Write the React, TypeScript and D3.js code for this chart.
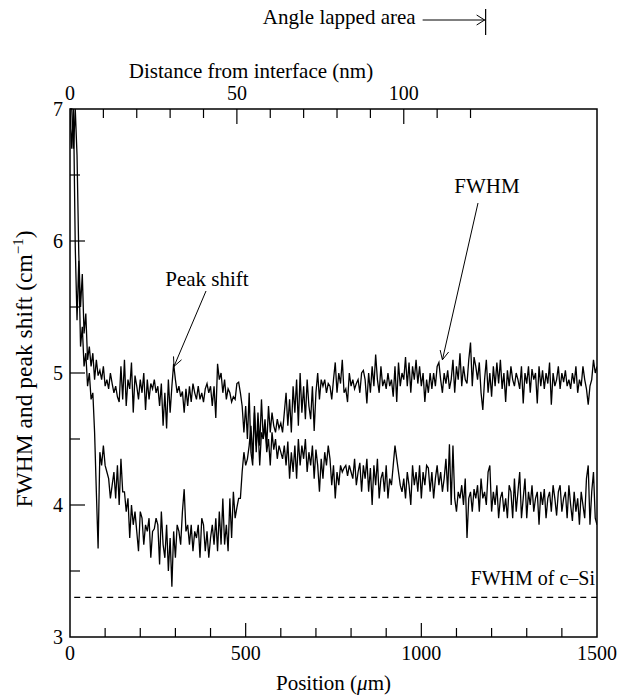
import React from "react";
import * as d3 from "d3";

// Position step (µm) between successive measurements
const STEP_UM = 5;

// Peak shift (cm^-1), positions 0..1500 µm every 5 µm
const peakShift: number[] = [
  7.0, 7.0, 6.7, 7.0, 6.65, 5.9, 5.5, 5.75, 5.3, 5.45, 5.1, 5.2, 5.05, 5.15, 4.95, 5.1, 4.98, 5.02, 4.95, 5.05, 4.9,
  4.95, 4.88, 5.0, 4.92, 4.85, 4.9, 4.82, 4.78, 5.05, 4.8, 5.1, 4.75, 4.95, 4.88, 5.08, 4.7, 4.98, 4.9, 4.8, 4.95,
  4.85, 5.0, 4.72, 4.95, 4.8, 4.92, 4.88, 4.95, 4.85, 4.9, 4.75, 4.92, 4.6, 4.85, 4.58, 4.95, 4.7, 4.9, 5.07, 4.95,
  4.85, 4.9, 4.82, 4.86, 4.7, 4.88, 4.75, 4.9, 4.78, 4.92, 4.85, 4.8, 4.9, 4.8, 4.85, 4.78, 4.88, 4.92, 4.85, 4.9,
  4.75, 4.9, 4.66, 5.07, 4.95, 5.0, 4.85, 4.95, 4.8, 4.88, 4.85, 4.78, 4.82, 4.8, 4.92, 4.93, 4.85, 4.75, 4.55, 4.75,
  4.5, 4.85, 4.4, 4.3, 4.7, 4.45, 4.6, 4.3, 4.55, 4.5, 4.6, 4.4, 4.5, 4.3, 4.55, 4.42, 4.5, 4.35, 4.45, 4.4,
  4.35, 4.45, 4.3, 4.48, 4.2, 4.4, 4.25, 4.45, 4.2, 4.5, 4.3, 4.45, 4.35, 4.5, 4.25, 4.4, 4.3, 4.45, 4.2, 4.42,
  4.3, 4.1, 4.35, 4.2, 4.4, 4.3, 4.45, 4.35, 4.15, 4.3, 4.05, 4.25, 4.15, 4.3, 4.25, 4.28, 4.3, 4.22, 4.3, 4.25,
  4.2, 4.35, 4.15, 4.25, 4.32, 4.1, 4.3, 4.2, 4.35, 4.1, 4.28, 4.0, 4.3, 4.15, 4.35, 4.05, 4.2, 4.25, 4.1, 4.3,
  4.05, 4.2, 4.15, 4.3, 4.45, 4.35, 4.25, 4.15, 4.1, 4.2, 4.05, 4.25, 4.15, 4.0, 4.3, 4.15, 4.25, 4.1, 4.3, 4.05,
  4.25, 4.15, 4.3, 4.28, 4.1, 4.25, 4.05, 4.2, 4.3, 4.15, 4.25, 4.1, 4.2, 4.35, 4.1, 4.46, 4.0, 4.45, 4.05, 3.95,
  4.1, 4.05, 4.15, 4.0, 4.2, 3.75, 4.05, 4.1, 3.95, 4.12, 4.05, 4.15, 3.95, 4.2, 4.05, 4.1, 4.0, 4.25, 4.3, 3.95,
  4.1, 4.0, 4.15, 3.9, 4.05, 4.1, 3.95, 4.05, 3.9, 4.15, 4.1, 3.9, 4.2, 3.95, 4.1, 4.25, 3.9, 4.05, 4.2, 3.9,
  4.1, 4.0, 4.15, 3.95, 4.05, 4.1, 3.85, 4.1, 4.0, 4.12, 3.9, 4.05, 4.1, 3.95, 4.15, 4.05, 3.92, 4.1, 4.15, 3.95,
  4.05, 4.1, 3.9, 4.15, 4.0, 3.88, 4.1, 3.95, 4.05, 3.85, 4.1, 4.0, 3.9, 4.2, 4.3, 3.85, 4.1, 4.25, 3.9, 3.85,
];

// FWHM (cm^-1), positions 0..1500 µm every 5 µm
const fwhm: number[] = [
  7.0, 6.7, 7.0, 5.95, 5.4, 5.85, 5.2, 5.35, 5.05, 5.15, 4.9, 5.0, 4.8, 4.85, 4.55, 4.1, 3.67, 4.4, 4.3, 4.45, 4.3,
  4.25, 4.2, 4.05, 4.15, 4.25, 4.05, 4.3, 4.0, 4.35, 4.1, 4.1, 3.95, 4.05, 3.75, 4.0, 3.85, 3.95, 3.8, 3.65, 3.95,
  3.9, 3.7, 3.85, 3.8, 3.9, 3.6, 3.8, 3.82, 3.9, 3.85, 3.55, 3.95, 3.7, 3.6, 3.85, 3.5, 3.75, 3.38, 3.8, 3.6,
  3.85, 3.8, 3.7, 3.95, 4.12, 3.8, 3.85, 3.7, 3.85, 3.65, 3.8, 3.75, 3.85, 3.6, 3.9, 3.85, 3.65, 3.8, 3.6, 3.75,
  3.85, 3.7, 3.9, 3.65, 3.95, 3.7, 4.05, 3.7, 3.85, 3.65, 4.05, 3.75, 4.1, 3.9, 3.98, 4.05, 4.05, 4.25, 4.4, 4.3,
  4.35, 4.45, 4.6, 4.35, 4.75, 4.4, 4.7, 4.45, 4.8, 4.5, 4.65, 4.45, 4.75, 4.55, 4.7, 4.6, 4.55, 4.65, 4.58, 4.62,
  4.55, 4.7, 4.85, 4.6, 4.8, 4.55, 4.9, 4.7, 4.95, 4.6, 5.0, 4.7, 4.9, 4.65, 4.95, 4.75, 4.65, 4.9, 4.56, 4.85,
  5.0, 4.8, 4.95, 4.9, 4.95, 4.85, 4.92, 4.9, 4.8, 4.95, 5.08, 4.85, 5.0, 4.92, 5.1, 4.85, 4.88, 4.78, 5.0, 4.9,
  4.95, 4.88, 4.92, 4.95, 4.85, 5.0, 5.02, 4.95, 4.77, 5.0, 4.85, 5.05, 4.9, 5.14, 4.95, 4.85, 5.05, 4.9, 4.95, 4.88,
  5.0, 4.9, 4.95, 4.82, 5.05, 4.78, 5.08, 4.9, 5.0, 4.95, 5.12, 4.9, 5.08, 4.85, 5.05, 4.95, 5.1, 4.92, 5.05, 4.9,
  5.0, 4.78, 4.95, 4.85, 5.0, 4.88, 5.0, 4.9, 5.05, 5.08, 4.95, 4.85, 5.0, 4.92, 5.02, 4.88, 4.95, 5.1, 4.85, 5.05,
  4.95, 5.15, 4.9, 5.05, 4.95, 4.92, 5.1, 5.23, 4.9, 5.12, 5.05, 4.95, 5.08, 4.85, 4.72, 4.95, 5.1, 4.85, 5.0, 4.82,
  5.05, 4.9, 5.08, 4.92, 5.1, 4.88, 5.0, 4.78, 5.02, 4.9, 5.05, 4.95, 4.9, 5.0, 4.95, 4.88, 5.05, 4.77, 5.0, 4.92,
  5.05, 4.85, 5.03, 4.95, 5.0, 4.77, 5.05, 4.9, 5.02, 4.88, 5.0, 4.92, 5.08, 4.76, 5.0, 4.9, 4.95, 5.05, 4.88, 5.0,
  4.93, 5.02, 4.9, 4.95, 4.88, 5.0, 4.92, 5.05, 4.85, 4.95, 4.9, 5.05, 4.95, 4.88, 4.76, 4.9, 4.95, 5.1, 5.0, 5.05,
];

const FWHM_CSI = 3.3;
const ANGLE_LAPPED_UM = 1183;
const UM_PER_NM = 9.5;

const bottomTicks = [100, 200, 300, 400, 500, 600, 700, 800, 900, 1000, 1100, 1200, 1300, 1400];
const bottomMajor = [0, 500, 1000, 1500];
const topTicksNm = [10, 20, 30, 40, 50, 60, 70, 80, 90, 100, 110, 120];
const topLabelsNm = [0, 50, 100];
const yTicks = [3.5, 4, 4.5, 5, 5.5, 6, 6.5];
const yLabels = [3, 4, 5, 6, 7];

const W = 622;
const H = 698;
const L = 70, R = 597, T = 109, B = 637;
const FONT = "'Liberation Serif', 'Times New Roman', Times, serif";
const FS = 21;
const FSN = 20;

export default function App() {
  const x = d3.scaleLinear().domain([0, 1500]).range([L, R]);
  const y = d3.scaleLinear().domain([3, 7]).range([B, T]);
  const xNm = (nm: number) => x(nm * UM_PER_NM);

  const line = d3
    .line<number>()
    .x((_, i) => x(i * STEP_UM))
    .y((d) => y(Math.min(7, d)));

  const psTip = { x: x(296), y: y(5.05) };
  const fwTip = { x: x(1060), y: y(5.1) };

  const arrowHead = (tip: { x: number; y: number }, from: { x: number; y: number }) => {
    const ang = Math.atan2(from.y - tip.y, from.x - tip.x);
    const len = 10;
    const spread = 0.45;
    const a1 = { x: tip.x + len * Math.cos(ang + spread), y: tip.y + len * Math.sin(ang + spread) };
    const a2 = { x: tip.x + len * Math.cos(ang - spread), y: tip.y + len * Math.sin(ang - spread) };
    return `M${a1.x},${a1.y}L${tip.x},${tip.y}L${a2.x},${a2.y}`;
  };

  const psFrom = { x: 206, y: 291 };
  const fwFrom = { x: 478, y: 203 };

  const angX = x(ANGLE_LAPPED_UM);

  return (
    <svg
      width={W}
      height={H}
      style={{ position: "absolute", left: 0, top: 0, background: "#fff" }}
      fontFamily={FONT}
      fontSize={FS}
    >
      <rect width={W} height={H} fill="#fff" />
      {/* Angle lapped area */}
      <text x={angX - 70} y={24} textAnchor="end">Angle lapped area</text>
      <line x1={angX - 63} x2={angX} y1={20} y2={20} stroke="#000" strokeWidth={1} />
      <path d={`M${angX - 9},${15}L${angX - 1},${20}L${angX - 9},${25}`} fill="none" stroke="#000" strokeWidth={1} />
      <line x1={angX} x2={angX} y1={9} y2={35} stroke="#000" strokeWidth={1.2} />

      {/* top axis title */}
      <text x={251} y={78} textAnchor="middle">Distance from interface (nm)</text>
      {topLabelsNm.map((t) => (
        <text key={"tl" + t} x={xNm(t)} y={100} textAnchor="middle" fontSize={FSN}>{t}</text>
      ))}

      {/* data */}
      <defs>
        <clipPath id="plot">
          <rect x={L} y={T - 1} width={R - L} height={B - T + 1} />
        </clipPath>
      </defs>
      <g clipPath="url(#plot)" fill="none" stroke="#000" strokeWidth={1.3} strokeLinejoin="miter">
        <path d={line(peakShift) || ""} />
        <path d={line(fwhm) || ""} />
      </g>

      {/* c-Si reference line */}
      <line x1={x(12)} x2={R} y1={y(FWHM_CSI)} y2={y(FWHM_CSI)} stroke="#000" strokeWidth={1.2} strokeDasharray="6,5" />
      <text x={R - 2} y={y(FWHM_CSI) - 12} textAnchor="end" fontSize={20}>FWHM of c–Si</text>

      {/* annotations */}
      <text x={207} y={286} textAnchor="middle">Peak shift</text>
      <line x1={psFrom.x} y1={psFrom.y} x2={psTip.x} y2={psTip.y} stroke="#000" strokeWidth={1} />
      <path d={arrowHead(psTip, psFrom)} fill="none" stroke="#000" strokeWidth={1} />

      <text x={487} y={193} textAnchor="middle">FWHM</text>
      <line x1={fwFrom.x} y1={fwFrom.y} x2={fwTip.x} y2={fwTip.y} stroke="#000" strokeWidth={1} />
      <path d={arrowHead(fwTip, fwFrom)} fill="none" stroke="#000" strokeWidth={1} />

      {/* frame */}
      <rect x={L} y={T} width={R - L} height={B - T} fill="none" stroke="#000" strokeWidth={1.5} />

      {/* bottom ticks */}
      {bottomTicks.map((t) => (
        <line key={"bt" + t} x1={x(t)} x2={x(t)} y1={B} y2={B - (t % 500 === 0 ? 14 : 9)} stroke="#000" strokeWidth={1.2} />
      ))}
      {bottomMajor.map((t) => (
        <text key={"bl" + t} x={x(t)} y={660} textAnchor="middle" fontSize={FSN}>{t}</text>
      ))}
      <text x={(L + R) / 2} y={690} textAnchor="middle">
        Position (<tspan fontStyle="italic">μ</tspan>m)
      </text>

      {/* top ticks */}
      {topTicksNm.map((t) => (
        <line key={"tt" + t} x1={xNm(t)} x2={xNm(t)} y1={T} y2={T + (t % 50 === 0 ? 15 : 9)} stroke="#000" strokeWidth={1.2} />
      ))}

      {/* left ticks */}
      {yTicks.map((t) => (
        <line key={"yt" + t} x1={L} x2={L + (t % 1 === 0 ? 15 : 10)} y1={y(t)} y2={y(t)} stroke="#000" strokeWidth={1.2} />
      ))}
      {yLabels.map((t) => (
        <text key={"yl" + t} x={63} y={y(t)} dy="0.35em" textAnchor="end" fontSize={FSN}>{t}</text>
      ))}
      <text transform={`translate(32,369) rotate(-90)`} textAnchor="middle" fontSize={23.5}>
        FWHM and peak shift (cm<tspan dy={-9} fontSize={15}>−1</tspan><tspan dy={9}>)</tspan>
      </text>
    </svg>
  );
}
